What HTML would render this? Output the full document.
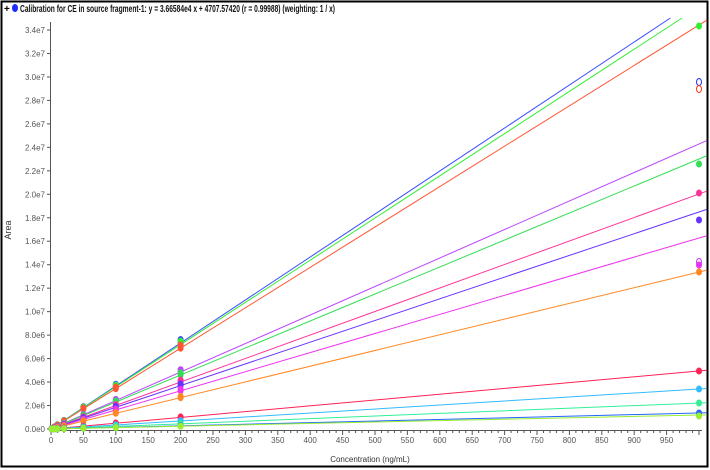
<!DOCTYPE html>
<html><head><meta charset="utf-8"><style>
html,body{margin:0;padding:0;background:#fff;}
svg{display:block;font-family:"Liberation Sans",sans-serif;}
</style></head><body>
<svg id="s" width="710" height="470" xmlns="http://www.w3.org/2000/svg">
<rect x="1.5" y="1.5" width="706" height="465" fill="none" stroke="#000" stroke-width="2"/>
<text x="4" y="12" font-size="10" font-weight="bold" fill="#000">+</text>
<ellipse cx="15" cy="8" rx="3" ry="4" fill="#1a2cff"/>
<text x="20" y="12" font-size="10" font-weight="bold" fill="#111" textLength="315" lengthAdjust="spacingAndGlyphs">Calibration for CE in source fragment-1: y = 3.66584e4 x + 4707.57420 (r = 0.99988) (weighting: 1 / x)</text>
<text transform="translate(11,230) rotate(-90)" font-size="9" fill="#333" text-anchor="middle">Area</text>
<text x="370" y="462" font-size="8" fill="#333" text-anchor="middle">Concentration (ng/mL)</text>
<g id="ax" stroke="#555" stroke-width="1"></g>
<g id="lab" font-size="8" fill="#555"></g>
<g id="ln" stroke-width="1" fill="none"></g>
<g id="pt"></g>
</svg>
<script>
var NS="http://www.w3.org/2000/svg";
function el(p,t,a,txt){var e=document.createElementNS(NS,t);for(var k in a)e.setAttribute(k,a[k]);if(txt!=null)e.textContent=txt;document.getElementById(p).appendChild(e);return e;}
var x0=51,xs=0.648,y0=429;
function X(c){return x0+c*xs;}
el("ax","line",{x1:50.5,y1:22,x2:50.5,y2:430});
el("ax","line",{x1:50,y1:430.5,x2:702,y2:430.5});
for(var k=0;k<=17;k++){var y=y0-23.47*k;el("ax","line",{x1:47,y1:y,x2:50,y2:y});
var v=2*k;var s=(k==0)?"0.0e0":(v<10?(v.toFixed(1)+"e6"):((v/10).toFixed(1)+"e7"));
el("lab","text",{x:45,y:y+3,"text-anchor":"end"},s);}
for(var c=0;c<=1000;c+=10){var L=(c%50==0)?4:2;el("ax","line",{x1:X(c),y1:431,x2:X(c),y2:431+L});
if(c%50==0&&c<1000)el("lab","text",{x:X(c),y:443,"text-anchor":"middle"},c);}
var S=[["#3a4cff",-1,null],["#33ee33",7,26],["#ff5533",25,null],
["#bb44ff",144,null],["#33dd55",159,164],["#ff3399",194,193],["#6633ff",212,220],
["#ee33ee",238,265],["#ff8822",272,272],["#ff2255",371,371],["#33bbff",389,389],
["#33ee99",403,403],["#2266ff",413,413],["#99ee33",415,416]];
var concs=[1,5,10,20,50,100,200];
S.forEach(function(s){var slope=(s[1]-y0)/1000;var xe=1012,ye=y0+slope*1012;
if(ye<18){xe=(18-y0)/slope;ye=18;}
el("ln","line",{x1:X(0),y1:y0,x2:X(xe),y2:ye,stroke:s[0]});
concs.forEach(function(c){el("pt","ellipse",{cx:X(c),cy:y0+slope*c,rx:3,ry:3.5,fill:s[0]});
if(c>=50)el("pt","ellipse",{cx:X(c),cy:y0+slope*c*1.04,rx:3,ry:3.5,fill:s[0]});});
if(s[2]!=null)el("pt","ellipse",{cx:699,cy:s[2],rx:3,ry:3.5,fill:s[0]});});
el("pt","ellipse",{cx:699,cy:82,rx:2.5,ry:3.5,fill:"none",stroke:"#2233ff"});
el("pt","ellipse",{cx:699,cy:89,rx:2.5,ry:3.5,fill:"none",stroke:"#ff3311"});
el("pt","ellipse",{cx:699,cy:262,rx:2.5,ry:3.5,fill:"none",stroke:"#cc33ff"});
</script>
</body></html>
